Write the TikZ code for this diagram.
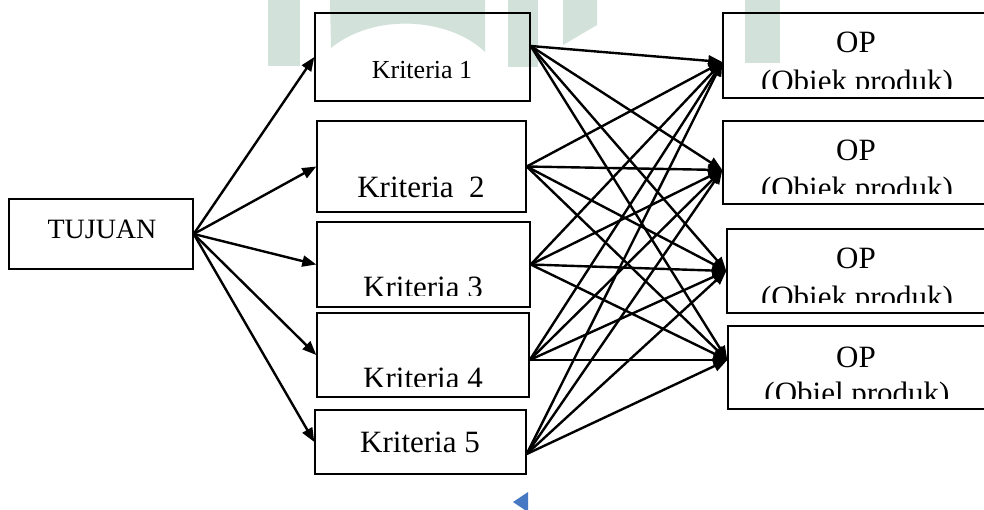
\documentclass[tikz,border=0pt]{standalone}
\usepackage{fontspec}
\setmainfont{Liberation Serif}
\usetikzlibrary{arrows.meta}
\definecolor{wmgreen}{RGB}{210,226,218}
\definecolor{wmblue}{RGB}{70,120,196}

\begin{document}
\begin{tikzpicture}[x=1pt, y=-1pt,
      >={Triangle[length=14pt,width=11pt]},
      box/.style={draw, line width=1.4pt, inner sep=0pt},
      lbl/.style={inner sep=0pt, anchor=base, font=\fontsize{31}{36}\selectfont},
      con/.style={->, line width=2.4pt},
    ]
    \useasboundingbox (0,0) rectangle (984,509);

    % watermark in the background
    \fill[wmgreen] (268,0) rectangle (300,66);
    \fill[wmgreen] (330,0) -- (485,0) -- (485,52)
      .. controls (450,18) and (375,12) .. (331,48) -- cycle;
    \fill[wmgreen] (508,0) rectangle (538,67);
    \fill[wmgreen] (563,0) -- (597,0) -- (597,25) -- (563,45) -- cycle;
    \fill[wmgreen] (745,0) rectangle (780,63);
    \fill[wmblue] (513,502) -- (528,492) -- (528,512) -- cycle;

    % goal
    \node[box, minimum width=184pt, minimum height=70pt] (tujuan) at (101,234) {};
    \node[lbl, font=\fontsize{28}{34}\selectfont] (tujuantxt) at (102,238) {TUJUAN};

    % criteria column
    \node[box, minimum width=215pt, minimum height=88pt] (k1) at (422.5,57) {};
    \node[box, minimum width=209pt, minimum height=91pt] (k2) at (421.5,166.5) {};
    \node[box, minimum width=213pt, minimum height=85pt] (k3) at (423.5,264.5) {};
    \node[box, minimum width=212pt, minimum height=84pt] (k4) at (423,355) {};
    \node[box, minimum width=211pt, minimum height=64pt] (k5) at (420.5,442) {};

    \node[lbl, font=\fontsize{26}{31}\selectfont] (k1txt) at (422,78) {Kriteria 1};
    \node[lbl] (k2txt) at (421,197) {Kriteria\ \ 2};
    \begin{scope}
      \clip (317,222) rectangle (530,295);
      \node[lbl] (k3txt) at (423,297.5) {Kriteria 3};
    \end{scope}
    \begin{scope}
      \clip (317,313) rectangle (530,386);
      \node[lbl] (k4txt) at (423,388.5) {Kriteria 4};
    \end{scope}
    \node[lbl] (k5txt) at (420,452) {Kriteria 5};

    % product objects (cut by the page edge)
    \node[box, minimum width=277pt, minimum height=85pt] (op1) at (861.5,55.5) {};
    \node[box, minimum width=277pt, minimum height=83pt] (op2) at (861.5,162.5) {};
    \node[box, minimum width=273pt, minimum height=84pt] (op3) at (863.5,271) {};
    \node[box, minimum width=272pt, minimum height=83pt] (op4) at (864,367.5) {};

    \node[lbl] (op1a) at (856,52) {OP};
    \node[lbl] (op2a) at (856,160) {OP};
    \node[lbl] (op3a) at (856,268) {OP};
    \node[lbl] (op4a) at (856,367) {OP};
    \begin{scope}
      \clip (723,60) rectangle (984,88);
      \node[lbl] (op1b) at (857,91) {(Obiek produk)};
    \end{scope}
    \begin{scope}
      \clip (723,165) rectangle (984,193);
      \node[lbl] (op2b) at (857,198) {(Obiek produk)};
    \end{scope}
    \begin{scope}
      \clip (727,275) rectangle (984,302);
      \node[lbl] (op3b) at (857,307) {(Obiek produk)};
    \end{scope}
    \begin{scope}
      \clip (728,372) rectangle (984,398);
      \node[lbl] (op4b) at (857,403) {(Obiel produk)};
    \end{scope}

    % connection points
    \coordinate (k1out) at ([yshift=11pt]k1.east);
    \coordinate (k4out) at ([yshift=-5pt]k4.east);
    \coordinate (k5out) at ([yshift=-12pt]k5.east);
    \coordinate (op1in) at ([yshift=-6.5pt]op1.west);
    \coordinate (op2in) at ([yshift=-7.5pt]op2.west);
    \coordinate (op4in) at ([yshift=7.5pt]op4.west);

    % goal to criteria
    \draw[con] (tujuan.east) -- (k1.west);
    \draw[con] (tujuan.east) -- (k2.west);
    \draw[con] (tujuan.east) -- (k3.west);
    \draw[con] (tujuan.east) -- (k4.west);
    \draw[con] (tujuan.east) -- (k5.west);

    % criteria to every product object
    \draw[con] (k1out) -- (op1in);
    \draw[con] (k1out) -- (op2in);
    \draw[con] (k1out) -- (op3.west);
    \draw[con] (k1out) -- (op4in);
    \draw[con] (k2.east) -- (op1in);
    \draw[con] (k2.east) -- (op2in);
    \draw[con] (k2.east) -- (op3.west);
    \draw[con] (k2.east) -- (op4in);
    \draw[con] (k3.east) -- (op1in);
    \draw[con] (k3.east) -- (op2in);
    \draw[con] (k3.east) -- (op3.west);
    \draw[con] (k3.east) -- (op4in);
    \draw[con] (k4out) -- (op1in);
    \draw[con] (k4out) -- (op2in);
    \draw[con] (k4out) -- (op3.west);
    \draw[con] (k4out) -- (op4in);
    \draw[con] (k5out) -- (op1in);
    \draw[con] (k5out) -- (op2in);
    \draw[con] (k5out) -- (op3.west);
    \draw[con] (k5out) -- (op4in);
  \end{tikzpicture}
\end{document}
